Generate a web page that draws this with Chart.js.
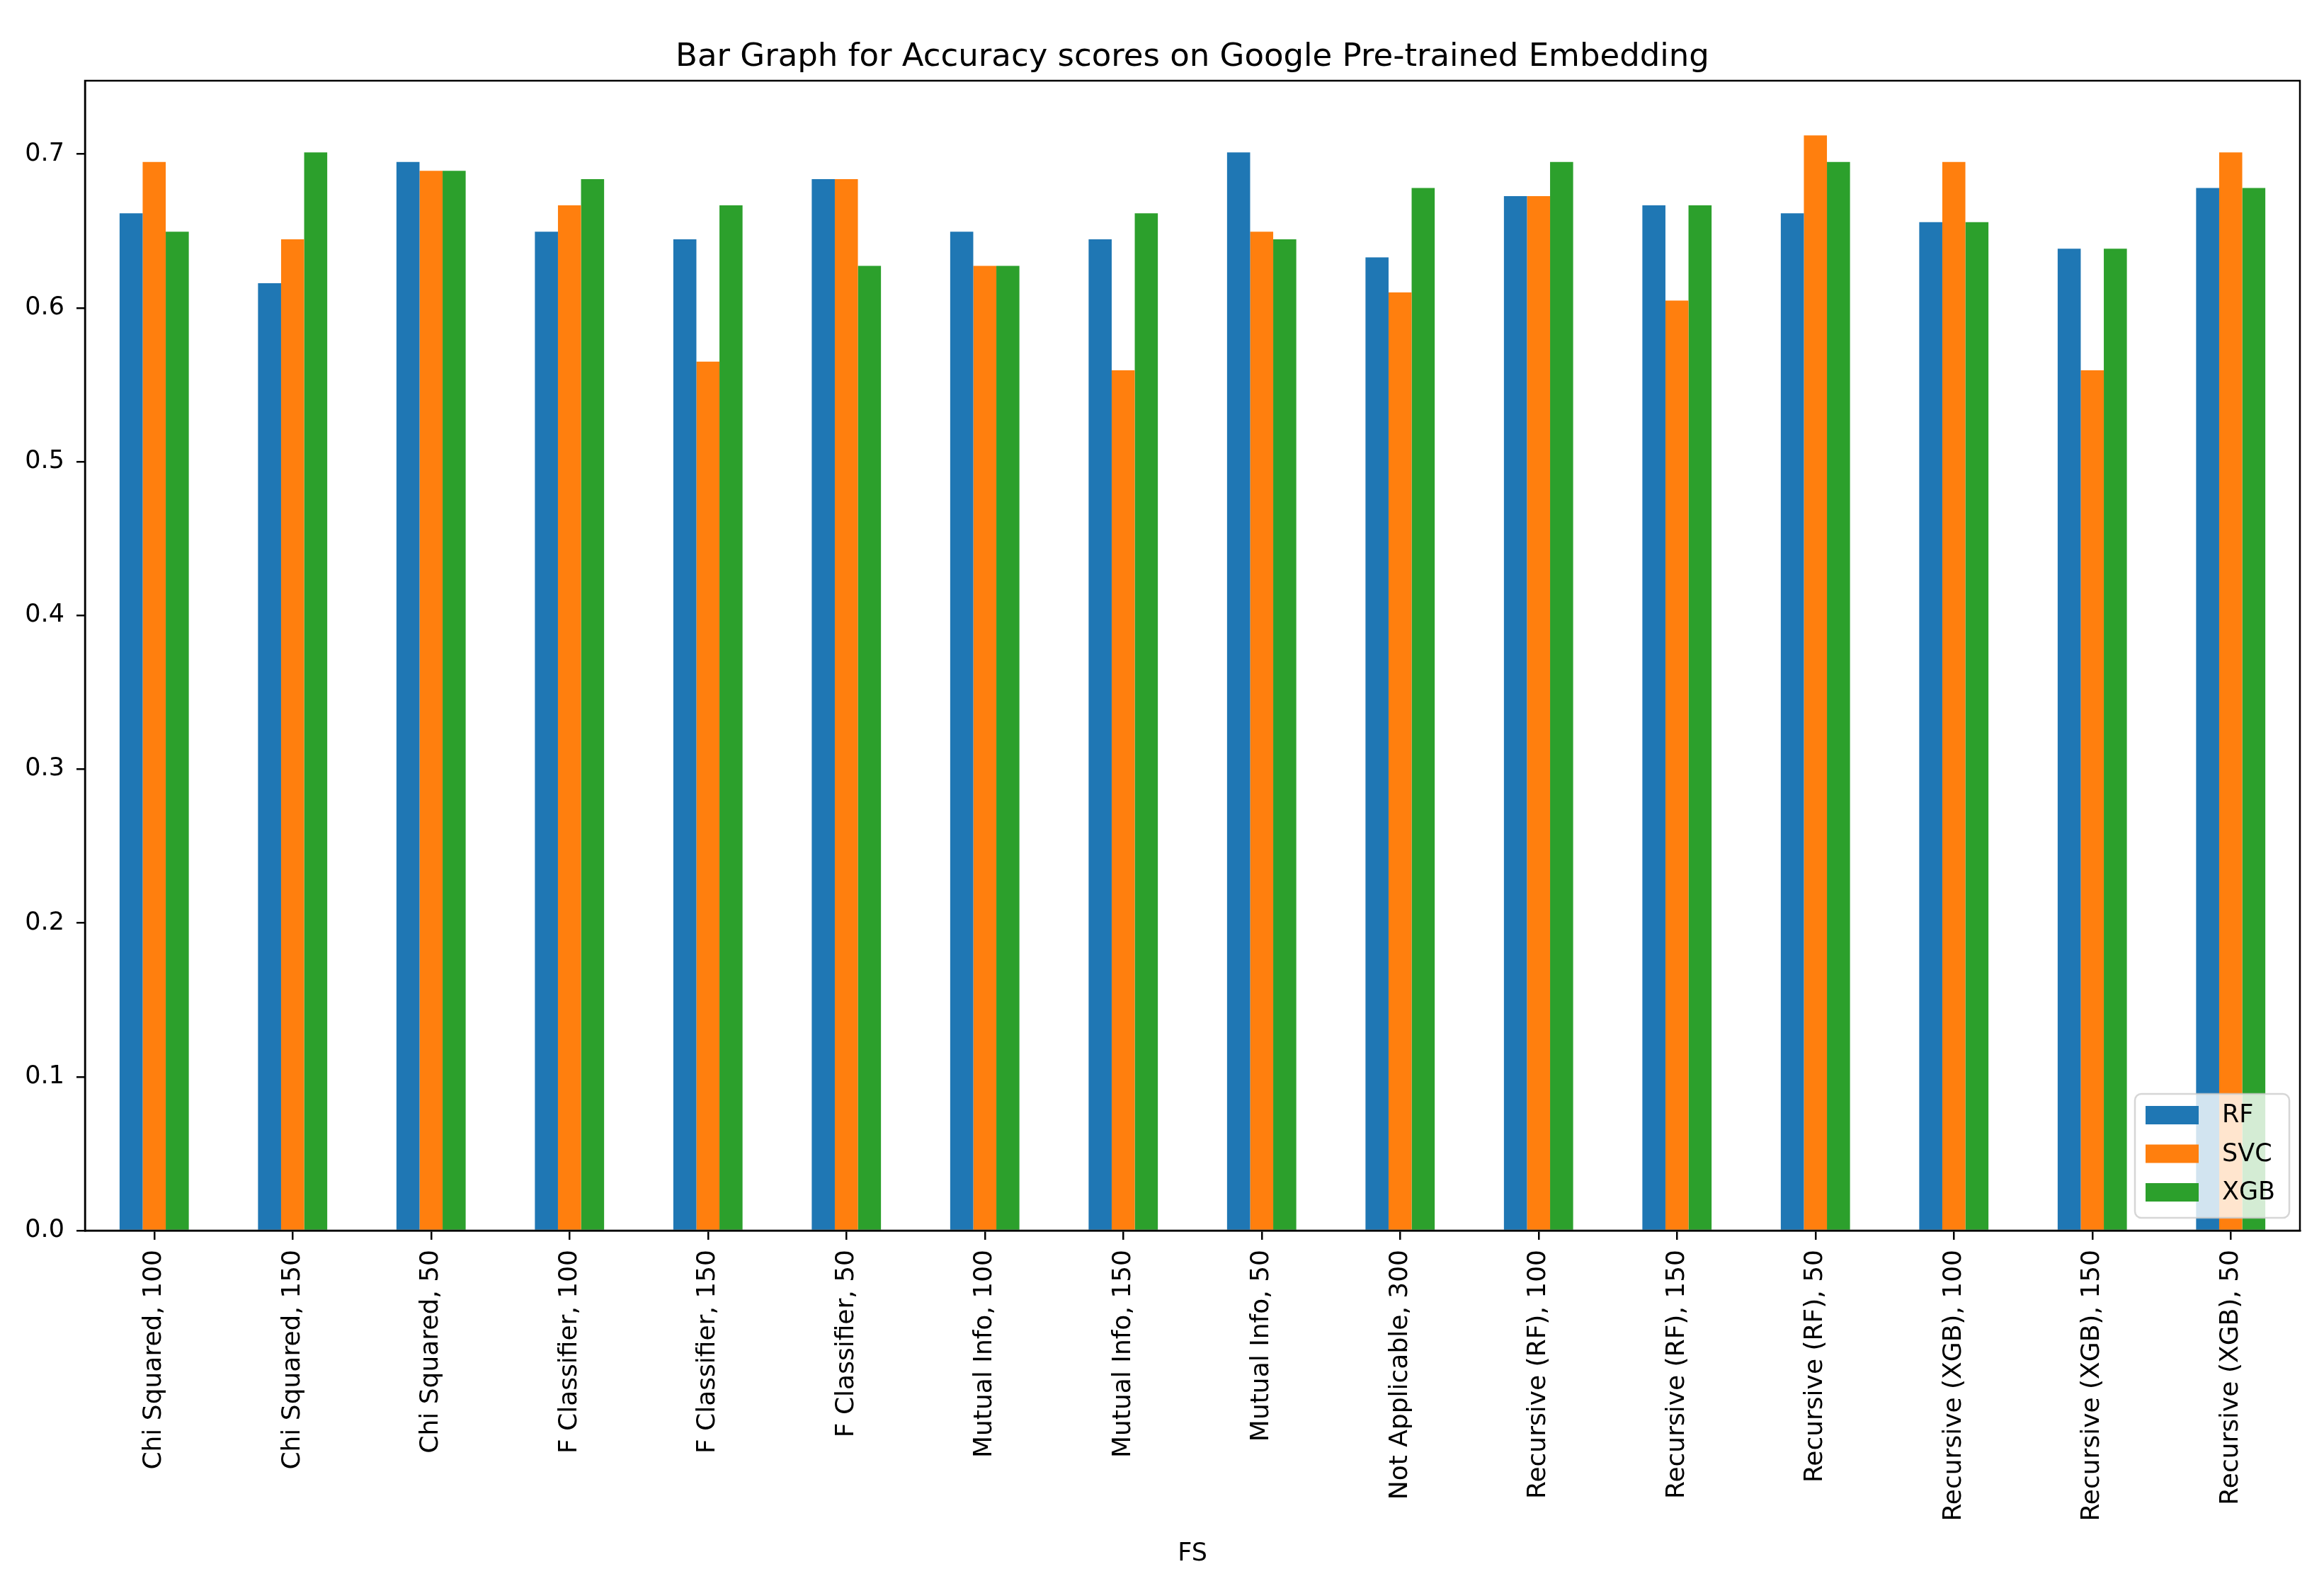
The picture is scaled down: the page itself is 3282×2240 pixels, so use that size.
<!DOCTYPE html>
<html>
<head>
<meta charset="utf-8">
<script src="https://cdn.jsdelivr.net/npm/chart.js@4.4.1/dist/chart.umd.min.js"></script>
<style>
  body { margin: 0; background: #fff; }
  #acc-canvas { display: block; }
</style>
</head>
<body>
<canvas id="acc-canvas" width="3282" height="2240"></canvas>
<script>
// categories on the x axis (feature selection, n features)
const categories = [
    'Chi Squared, 100', 'Chi Squared, 150', 'Chi Squared, 50',
    'F Classifier, 100', 'F Classifier, 150', 'F Classifier, 50',
    'Mutual Info, 100', 'Mutual Info, 150', 'Mutual Info, 50',
    'Not Applicable, 300',
    'Recursive (RF), 100', 'Recursive (RF), 150', 'Recursive (RF), 50',
    'Recursive (XGB), 100', 'Recursive (XGB), 150', 'Recursive (XGB), 50'
];
const seriesNames = ['RF', 'SVC', 'XGB'];
const rf  = [0.6615, 0.6160, 0.6949, 0.6495, 0.6446, 0.6837, 0.6495, 0.6446, 0.7011, 0.6328, 0.6727, 0.6667, 0.6615, 0.6557, 0.6385, 0.6779];
const svc = [0.6949, 0.6446, 0.6891, 0.6667, 0.5650, 0.6837, 0.6273, 0.5594, 0.6495, 0.6101, 0.6727, 0.6047, 0.7121, 0.6949, 0.5594, 0.7011];
const xgb = [0.6495, 0.7011, 0.6891, 0.6837, 0.6667, 0.6273, 0.6273, 0.6615, 0.6446, 0.6779, 0.6949, 0.6667, 0.6949, 0.6557, 0.6385, 0.6779];
const yTicks = [0, 0.1, 0.2, 0.3, 0.4, 0.5, 0.6, 0.7];
const colors = ['#1f77b4', '#ff7f0e', '#2ca02c'];

const FONT = "'DejaVu Sans', 'Liberation Sans', sans-serif";

// matplotlib-style spines all round
const frame = {
    id: 'frame',
    afterDatasetsDraw(chart) {
        const a = chart.chartArea, ctx = chart.ctx;
        ctx.save();
        ctx.strokeStyle = '#000';
        ctx.lineWidth = 2.5;
        ctx.strokeRect(a.left, a.top, a.right - a.left, a.bottom - a.top);
        ctx.restore();
    }
};

// legend in the lower right corner, inside the axes
const boxLegend = {
    id: 'boxLegend',
    afterDraw(chart) {
        const a = chart.chartArea, ctx = chart.ctx;
        const w = 218, h = 175;
        const x = a.right - 15 - w, y = a.bottom - 18 - h;
        ctx.save();
        ctx.beginPath();
        ctx.roundRect(x, y, w, h, 9);
        ctx.fillStyle = 'rgba(255,255,255,0.8)';
        ctx.fill();
        ctx.strokeStyle = 'rgba(204,204,204,0.8)';
        ctx.lineWidth = 2.5;
        ctx.stroke();
        ctx.font = '35px ' + FONT;
        ctx.textBaseline = 'middle';
        chart.data.datasets.forEach(function(ds, i){
            let cy = y + 30 + i * 54.5;
            ctx.fillStyle = ds.backgroundColor;
            ctx.fillRect(x + 15, cy - 13, 75, 26);
            ctx.fillStyle = '#000';
            ctx.fillText(ds.label, x + 123, cy + 1);
        });
        ctx.restore();
    }
};

let ctx = document.getElementById('acc-canvas').getContext('2d');
let chart = new Chart(ctx, {
    type: 'bar',
    data: {
        labels: categories,
        datasets: [rf, svc, xgb].map(function(vals, i){
            return {
                label: seriesNames[i],
                data: vals,
                backgroundColor: colors[i],
                borderWidth: 0,
                categoryPercentage: 0.5,
                barPercentage: 1.0
            };
        })
    },
    options: {
        responsive: false,
        animation: false,
        devicePixelRatio: 1,
        layout: { padding: { top: 0, right: 34, bottom: 0, left: 0 } },
        plugins: {
            legend: { display: false },
            tooltip: { enabled: false },
            title: {
                display: true,
                fullSize: false,
                text: 'Bar Graph for Accuracy scores on Google Pre-trained Embedding',
                color: '#000',
                font: { family: FONT, size: 45, weight: 'normal' },
                padding: { top: 54, bottom: 6 }
            }
        },
        scales: {
            x: {
                offset: true,
                grid: { offset: false, drawOnChartArea: false, drawTicks: true, tickLength: 13, color: '#000', lineWidth: 2.5 },
                border: { display: true, color: '#000', width: 2.5 },
                ticks: {
                    color: '#000',
                    font: { family: FONT, size: 36 },
                    minRotation: 90, maxRotation: 90,
                    autoSkip: false,
                    padding: 14
                },
                title: {
                    display: true,
                    text: 'FS',
                    color: '#000',
                    font: { family: FONT, size: 35 },
                    padding: { top: 0, bottom: 24 }
                },
                afterFit(scale) { scale.height = 502; }
            },
            y: {
                min: 0,
                max: Math.max.apply(null, rf.concat(svc, xgb)) * 1.05,
                grid: { drawOnChartArea: false, drawTicks: true, tickLength: 12, color: '#000', lineWidth: 2.5 },
                border: { display: true, color: '#000', width: 2.5 },
                afterBuildTicks(scale) {
                    scale.ticks = yTicks.map(function(v){ return { value: v }; });
                },
                ticks: {
                    color: '#000',
                    font: { family: FONT, size: 35 },
                    padding: 17,
                    callback: function(v){ return Number(v).toFixed(1); }
                },
                afterFit(scale) { scale.width = 120; }
            }
        }
    },
    plugins: [frame, boxLegend]
});
</script>
</body>
</html>
